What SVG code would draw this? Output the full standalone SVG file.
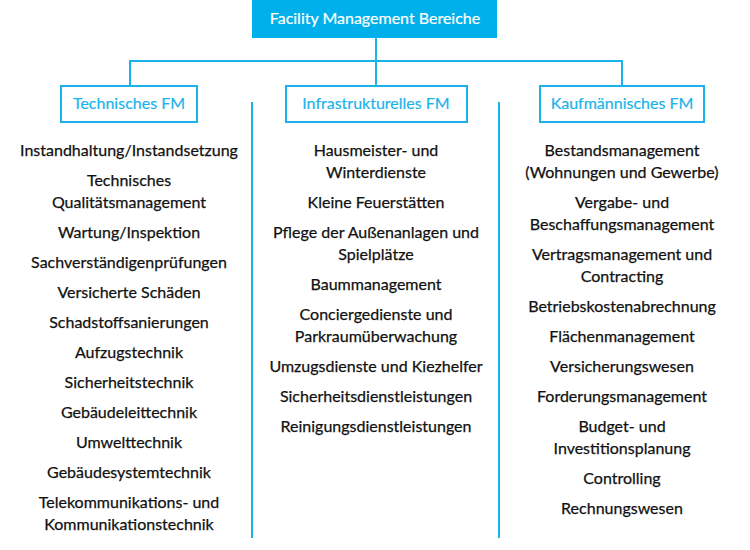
<svg xmlns="http://www.w3.org/2000/svg" width="750" height="550" viewBox="0 0 750 550">
<style>
.t{font-family:Lato,"Open Sans","Liberation Sans",sans-serif;font-size:16px;fill:#111;text-anchor:middle;stroke:#111;stroke-width:0.25}
.h{font-family:Lato,"Open Sans","Liberation Sans",sans-serif;font-size:16px;fill:#1ab4ea;text-anchor:middle;stroke:#1ab4ea;stroke-width:0.2}
.hb{fill:#fff;stroke:#1ab4ea;stroke-width:2}
.c{stroke:#1ab4ea;stroke-width:2;fill:none}
</style>
<rect width="750" height="550" fill="#fff"/>
<g id="connectors">
<path class="c" d="M376 38V86M130 61H622M130 60V86M622 60V86"/>
<path class="c" d="M252 102V538M499 102V538"/>
</g>
<g id="root">
<rect x="252" y="0" width="245" height="38" fill="#00b0ea"/>
<text x="375" y="24" class="t" style="fill:#fff;stroke:#fff;stroke-width:0.2">Facility Management Bereiche</text>
</g>
<g id="technisches">
<rect class="hb" x="61" y="86" width="136" height="36"/>
<text class="h" x="129" y="109">Technisches FM</text>
</g>
<g id="infrastrukturelles">
<rect class="hb" x="286" y="86" width="181" height="36"/>
<text class="h" x="376" y="109">Infrastrukturelles FM</text>
</g>
<g id="kaufmaennisches">
<rect class="hb" x="540" y="86" width="164" height="36"/>
<text class="h" x="622" y="109">Kaufmännisches FM</text>
</g>
<g id="tech-items">
<text class="t" x="129" y="156">Instandhaltung/Instandsetzung</text>
<text class="t" x="129" y="186">Technisches</text>
<text class="t" x="129" y="208">Qualitätsmanagement</text>
<text class="t" x="129" y="238">Wartung/Inspektion</text>
<text class="t" x="129" y="268">Sachverständigenprüfungen</text>
<text class="t" x="129" y="298">Versicherte Schäden</text>
<text class="t" x="129" y="328">Schadstoffsanierungen</text>
<text class="t" x="129" y="358">Aufzugstechnik</text>
<text class="t" x="129" y="388">Sicherheitstechnik</text>
<text class="t" x="129" y="418">Gebäudeleittechnik</text>
<text class="t" x="129" y="448">Umwelttechnik</text>
<text class="t" x="129" y="478">Gebäudesystemtechnik</text>
<text class="t" x="129" y="508">Telekommunikations- und</text>
<text class="t" x="129" y="530">Kommunikationstechnik</text>
</g>
<g id="infra-items">
<text class="t" x="376" y="156">Hausmeister- und</text>
<text class="t" x="376" y="178">Winterdienste</text>
<text class="t" x="376" y="208">Kleine Feuerstätten</text>
<text class="t" x="376" y="238">Pflege der Außenanlagen und</text>
<text class="t" x="376" y="260">Spielplätze</text>
<text class="t" x="376" y="290">Baummanagement</text>
<text class="t" x="376" y="320">Conciergedienste und</text>
<text class="t" x="376" y="342">Parkraumüberwachung</text>
<text class="t" x="376" y="372">Umzugsdienste und Kiezhelfer</text>
<text class="t" x="376" y="402">Sicherheitsdienstleistungen</text>
<text class="t" x="376" y="432">Reinigungsdienstleistungen</text>
</g>
<g id="kauf-items">
<text class="t" x="622" y="156">Bestandsmanagement</text>
<text class="t" x="622" y="178">(Wohnungen und Gewerbe)</text>
<text class="t" x="622" y="208">Vergabe- und</text>
<text class="t" x="622" y="230">Beschaffungsmanagement</text>
<text class="t" x="622" y="260">Vertragsmanagement und</text>
<text class="t" x="622" y="282">Contracting</text>
<text class="t" x="622" y="312">Betriebskostenabrechnung</text>
<text class="t" x="622" y="342">Flächenmanagement</text>
<text class="t" x="622" y="372">Versicherungswesen</text>
<text class="t" x="622" y="402">Forderungsmanagement</text>
<text class="t" x="622" y="432">Budget- und</text>
<text class="t" x="622" y="454">Investitionsplanung</text>
<text class="t" x="622" y="484">Controlling</text>
<text class="t" x="622" y="514">Rechnungswesen</text>
</g>
</svg>
